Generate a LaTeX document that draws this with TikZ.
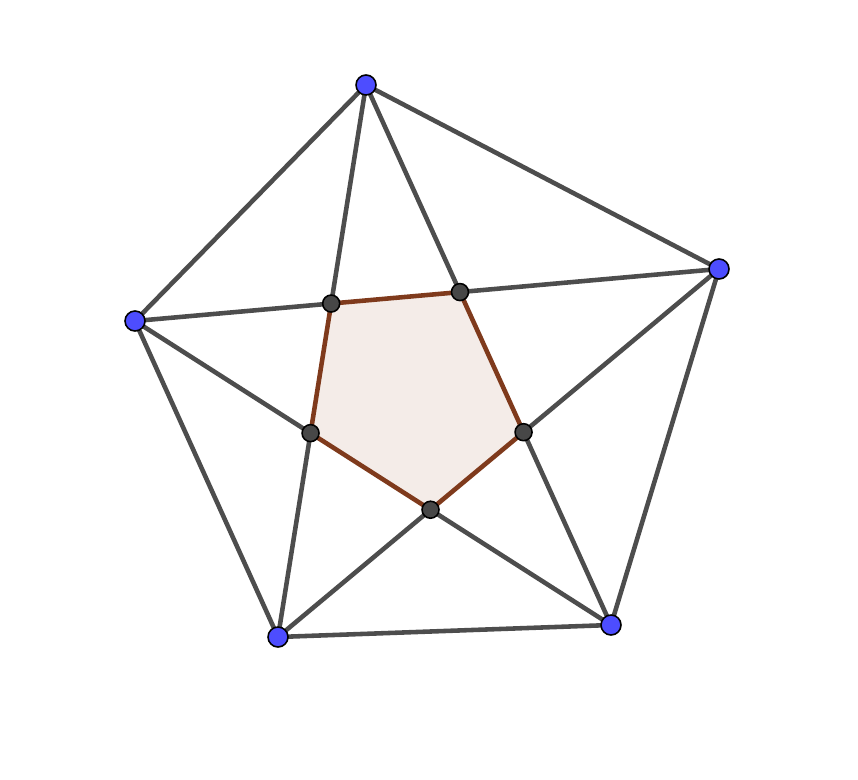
\documentclass[tikz,border=0pt]{standalone}
\usepackage{tikz}
\usetikzlibrary{calc}
\definecolor{segmentgris}{HTML}{4D4D4D}
\definecolor{pointbleu}{HTML}{4D4DFF}
\definecolor{pointgris}{HTML}{474747}
\definecolor{polybrun}{HTML}{7F3A1C}
\definecolor{polyfond}{HTML}{F4ECE8}

\begin{document}
\begin{tikzpicture}[x=0.02cm, y=-0.02cm,
  segment/.style={segmentgris, line width=2.6pt, line cap=round},
  sommet/.style={circle, draw=black, line width=0.9pt, fill=pointbleu, inner sep=0pt, minimum size=0.40cm},
  inter/.style={circle, draw=black, line width=0.9pt, fill=pointgris, inner sep=0pt, minimum size=0.34cm}]

  % === CADRE ===
  \useasboundingbox (0,0) rectangle (858,780);

  % === SOMMETS (pentagone) ===
  \coordinate (A) at (366,85);
  \coordinate (B) at (719,269);
  \coordinate (C) at (611,625);
  \coordinate (D) at (278,637);
  \coordinate (E) at (135,321);

  % Points d'intersection des diagonales
  \coordinate (I1) at (intersection of A--D and E--B);
  \coordinate (I2) at (intersection of A--C and E--B);
  \coordinate (I3) at (intersection of A--C and B--D);
  \coordinate (I4) at (intersection of B--D and C--E);
  \coordinate (I5) at (intersection of A--D and C--E);

  % === PENTAGONE INTERIEUR ===
  \fill[polyfond] (I1) -- (I2) -- (I3) -- (I4) -- (I5) -- cycle;

  % === COTES ===
  \draw[segment] (A) -- (B) -- (C) -- (D) -- (E) -- cycle;

  % === DIAGONALES ===
  \draw[segment] (A) -- (I1);
  \draw[segment] (I5) -- (D);
  \draw[segment] (A) -- (I2);
  \draw[segment] (I3) -- (C);
  \draw[segment] (E) -- (I1);
  \draw[segment] (I2) -- (B);
  \draw[segment] (B) -- (I3);
  \draw[segment] (I4) -- (D);
  \draw[segment] (C) -- (I4);
  \draw[segment] (I5) -- (E);

  \draw[polybrun, line width=2.6pt, line join=round] (I1) -- (I2) -- (I3) -- (I4) -- (I5) -- cycle;

  % === POINTS ===
  \foreach \p in {I1,I2,I3,I4,I5}
    \node[inter] (n\p) at (\p) {};
  \foreach \p in {A,B,C,D,E}
    \node[sommet] (n\p) at (\p) {};

\end{tikzpicture}
\end{document}
